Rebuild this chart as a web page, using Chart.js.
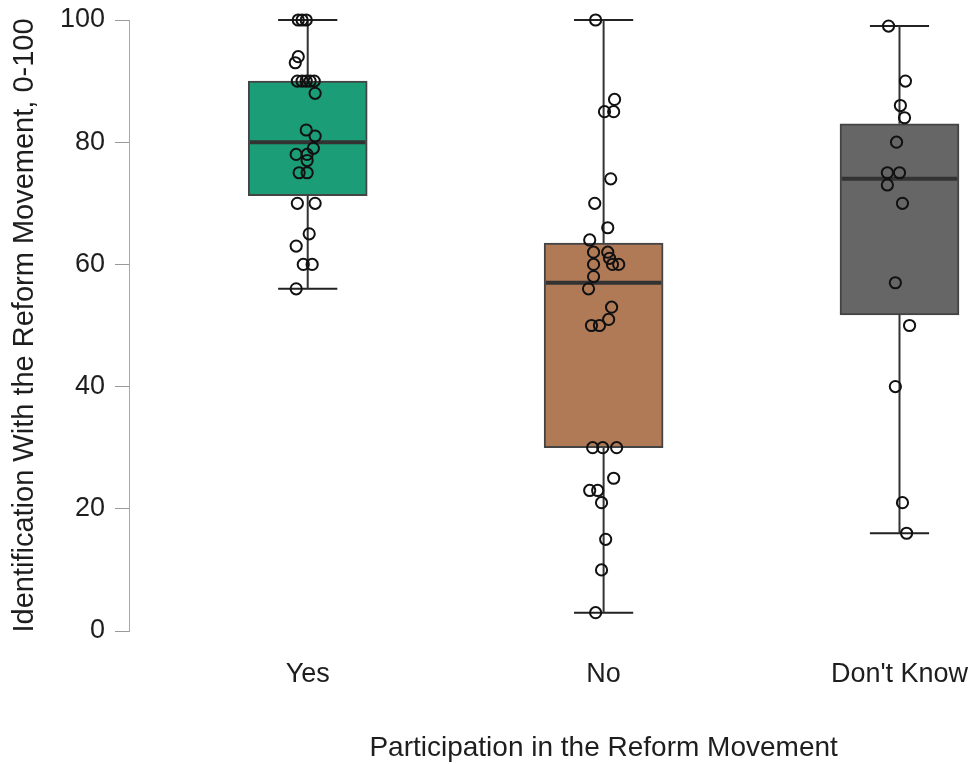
<!DOCTYPE html>
<html>
<head>
<meta charset="utf-8">
<script src="https://cdn.jsdelivr.net/npm/chart.js@4/dist/chart.umd.min.js"></script>
<style>
  html, body { margin: 0; padding: 0; background: #ffffff; }
  #wrap { width: 979px; height: 764px; position: relative; }
</style>
</head>
<body>
<div id="wrap"><canvas id="c"></canvas></div>
<script>
// Groups on the x axis
const categories = ['Yes', 'No', "Don't Know"];
const yTicks = [0, 20, 40, 60, 80, 100];
const xTitle = 'Participation in the Reform Movement';
const yTitle = 'Identification With the Reform Movement, 0-100';

// Box summaries per group
const boxLow = [71.25, 30, 51.75];
const boxHigh = [90, 63.5, 83];
const medians = [80, 57, 74];
const whiskerLow = [56, 3, 16];
const whiskerHigh = [100, 100, 99];
const boxColors = ['#1b9e77', '#b07a57', '#666666'];

// Individual responses, with horizontal jitter (in group units)
const yesValues = [100, 100, 100, 94, 93, 90, 90, 90, 90, 90, 88, 82, 81, 79, 78, 78, 77, 75, 75, 70, 70, 65, 63, 60, 60, 56];
const yesJitter = [-0.032, -0.019, -0.005, -0.032, -0.042, -0.035, -0.019, -0.005, 0.008, 0.022, 0.025, -0.005, 0.025, 0.019, -0.039, -0.002, -0.002, -0.029, -0.002, -0.035, 0.025, 0.005, -0.039, -0.015, 0.015, -0.039];

const noValues = [100, 87, 85, 85, 74, 70, 66, 64, 62, 62, 61, 60, 60, 60, 58, 56, 53, 51, 50, 50, 30, 30, 30, 25, 23, 23, 21, 15, 10, 3];
const noJitter = [-0.027, 0.037, 0.003, 0.034, 0.024, -0.030, 0.014, -0.047, -0.034, 0.014, 0.020, 0.030, 0.051, -0.034, -0.034, -0.051, 0.027, 0.017, -0.041, -0.014, -0.037, -0.003, 0.044, 0.034, -0.047, -0.020, -0.007, 0.007, -0.007, -0.027];

const dkValues = [99, 90, 86, 84, 80, 75, 75, 73, 70, 57, 50, 40, 21, 16];
const dkJitter = [-0.037, 0.020, 0.003, 0.017, -0.010, -0.041, 0.000, -0.041, 0.010, -0.014, 0.034, -0.014, 0.010, 0.024];

const groupValues = [yesValues, noValues, dkValues];
const groupJitter = [yesJitter, noJitter, dkJitter];

const BOX_HALF = 0.195;   // median bar half-width (group units)
const CAP_HALF = 0.1;     // whisker cap half-width (group units)
const FONT = "'Liberation Sans', Arial, Helvetica, sans-serif";
const TEXT = '#1e1e1e';

// Data for the derived line layers
const points = [];
groupValues.forEach((vals, g) => {
  vals.forEach((v, i) => points.push({ x: g + 1 + groupJitter[g][i], y: v }));
});

const whiskerLines = [];
const capLines = [];
const medianLines = [];
categories.forEach((_, g) => {
  const c = g + 1;
  whiskerLines.push({ x: c, y: whiskerLow[g] }, { x: c, y: boxLow[g] }, { x: c, y: null });
  whiskerLines.push({ x: c, y: boxHigh[g] }, { x: c, y: whiskerHigh[g] }, { x: c, y: null });
  capLines.push({ x: c - CAP_HALF, y: whiskerLow[g] }, { x: c + CAP_HALF, y: whiskerLow[g] }, { x: c, y: null });
  capLines.push({ x: c - CAP_HALF, y: whiskerHigh[g] }, { x: c + CAP_HALF, y: whiskerHigh[g] }, { x: c, y: null });
  medianLines.push({ x: c - BOX_HALF, y: medians[g] }, { x: c + BOX_HALF, y: medians[g] }, { x: c, y: null });
});

const boxes = categories.map((_, g) => ({ x: g + 1, y: [boxLow[g], boxHigh[g]] }));

// Axis boxes keep a fixed size with no label overhang padding
const noOverhang = (scale) => {
  scale.paddingTop = 0; scale.paddingBottom = 0;
  scale.paddingLeft = 0; scale.paddingRight = 0;
};

// x-axis title, centred over the span of the groups rather than the whole axis
const groupTitle = {
  id: 'groupTitle',
  afterDraw(chart) {
    const xs = chart.scales.x;
    const cx = xs.getPixelForValue((1 + categories.length) / 2);
    const ctx = chart.ctx;
    ctx.save();
    ctx.fillStyle = TEXT;
    ctx.font = '28px ' + FONT;
    ctx.textAlign = 'center';
    ctx.textBaseline = 'middle';
    ctx.fillText(xTitle, cx, xs.bottom - 16);
    ctx.restore();
  }
};

new Chart(document.getElementById('c'), {
  data: {
    datasets: [
      {
        type: 'scatter',
        label: 'responses',
        data: points,
        pointStyle: 'circle',
        pointRadius: 5.6,
        pointBorderWidth: 2,
        pointBorderColor: '#111111',
        pointBackgroundColor: 'rgba(0,0,0,0)',
        clip: false,
        order: 0
      },
      {
        type: 'line',
        label: 'median',
        data: medianLines,
        borderColor: '#333333',
        borderWidth: 4,
        pointRadius: 0,
        spanGaps: false,
        clip: false,
        order: 1
      },
      {
        type: 'line',
        label: 'whiskers',
        data: whiskerLines,
        borderColor: '#333333',
        borderWidth: 2,
        pointRadius: 0,
        spanGaps: false,
        clip: false,
        order: 2
      },
      {
        type: 'line',
        label: 'caps',
        data: capLines,
        borderColor: '#222222',
        borderWidth: 2,
        pointRadius: 0,
        spanGaps: false,
        clip: false,
        order: 2
      },
      {
        type: 'bar',
        label: 'boxes',
        data: boxes,
        backgroundColor: boxColors,
        borderColor: '#444444',
        borderWidth: 2,
        borderSkipped: false,
        barThickness: 119,
        clip: false,
        order: 3
      }
    ]
  },
  plugins: [groupTitle],
  options: {
    responsive: true,
    maintainAspectRatio: false,
    animation: false,
    layout: { padding: { top: 20, right: 0, bottom: 0, left: 0 } },
    plugins: { legend: { display: false }, tooltip: { enabled: false } },
    scales: {
      x: {
        type: 'linear',
        offset: false,
        min: 0.396,
        max: 3.243,
        afterBuildTicks: (scale) => { scale.ticks = categories.map((_, i) => ({ value: i + 1 })); },
        afterFit: (scale) => { scale.height = 133; noOverhang(scale); },
        grid: { display: false, drawTicks: false, offset: false },
        border: { display: false },
        ticks: {
          autoSkip: false,
          maxRotation: 0,
          padding: 27,
          color: TEXT,
          font: { family: FONT, size: 27 },
          callback: (v) => categories[Math.round(v) - 1]
        },
        title: { display: false }
      },
      y: {
        type: 'linear',
        min: 0,
        max: 100,
        afterBuildTicks: (scale) => { scale.ticks = yTicks.map(v => ({ value: v })); },
        afterFit: (scale) => { scale.width = 129; noOverhang(scale); },
        grid: { drawOnChartArea: false, drawTicks: true, tickLength: 14, color: '#9a9a9a', lineWidth: 1 },
        border: { display: true, color: '#a8a8a8', width: 1 },
        ticks: {
          padding: 10,
          color: TEXT,
          font: { family: FONT, size: 27 }
        },
        title: {
          display: true,
          text: yTitle,
          color: TEXT,
          font: { family: FONT, size: 29 },
          padding: { top: 8, bottom: 0 }
        }
      }
    }
  }
});
</script>
</body>
</html>
